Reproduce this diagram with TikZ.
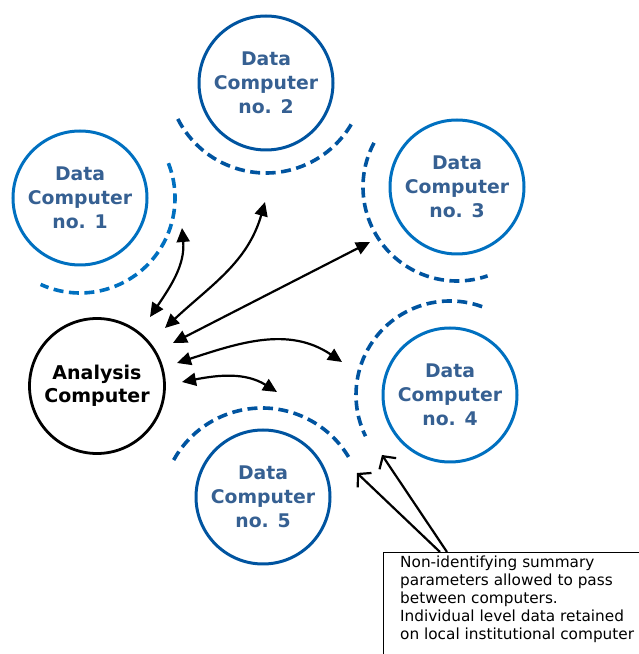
\documentclass[tikz,border=0pt]{standalone}
\usepackage{fontspec}
\setmainfont{DejaVu Sans}
\usetikzlibrary{arrows.meta,calc}
\definecolor{lightblue}{RGB}{0,112,192}
\definecolor{deepblue}{RGB}{0,84,160}
\definecolor{labelblue}{RGB}{54,96,146}
\begin{document}
\begin{tikzpicture}[x=1pt,y=1pt,
  dcnode/.style={circle, draw, minimum size=134pt, inner sep=0pt, line width=3pt,
    align=center, text=labelblue, font=\fontsize{18.8}{24}\selectfont\bfseries},
  hostnode/.style={circle, draw=black, minimum size=135pt, inner sep=0pt, line width=2.8pt,
    align=center, font=\fontsize{19}{23.5}\selectfont\bfseries},
  shield/.style={line width=3.6pt, dash pattern=on 10pt off 5.5pt},
  link/.style={line width=2.2pt, {Triangle[length=14pt,width=13pt]}-{Triangle[length=14pt,width=13pt]}},
  pointer/.style={line width=2.2pt, -{Straight Barb[length=9pt,width=20pt]}}
]
\useasboundingbox (0,0) rectangle (638,654);

% data computers
\node[dcnode, draw=lightblue] (dc1) at (80,456) {Data\\Computer\\no. 1};
\node[dcnode, draw=deepblue]  (dc2) at (266,571) {Data\\Computer\\no. 2};
\node[dcnode, draw=lightblue] (dc3) at (457,467) {Data\\Computer\\no. 3};
\node[dcnode, draw=lightblue] (dc4) at (450,259) {Data\\Computer\\no. 4};
\node[dcnode, draw=deepblue]  (dc5) at (263,157) {Data\\Computer\\no. 5};

% analysis computer
\node[hostnode] (ac) at (97,268) {Analysis\\Computer};

% dashed boundaries around each data computer
\draw[shield, lightblue] (dc1.center) ++(21.5:95) arc[start angle=21.5, end angle=-114.5, radius=95];
\draw[shield, deepblue] ($(dc2.center)+(0,9)$) ++(207:99) arc[start angle=207, end angle=332, radius=99];
\draw[shield, deepblue] (dc3.center) ++(152:94) arc[start angle=152, end angle=289, radius=94];
\draw[shield, deepblue] (dc4.center) ++(70:94) arc[start angle=70, end angle=206, radius=94];
\draw[shield, deepblue] ($(dc5.center)+(-1,-12)$) ++(151:101) arc[start angle=151, end angle=28, radius=101];

% arrow ends
\coordinate (p1) at (150,337); \coordinate (q1) at (182,426);
\coordinate (p2) at (165,326); \coordinate (q2) at (265,452);
\coordinate (p3) at (173,311); \coordinate (q3) at (370,412);
\coordinate (p4) at (177,291); \coordinate (q4) at (342,292);
\coordinate (p5) at (182,272); \coordinate (q5) at (277,262);

% parameter exchange
\draw[link] (p1) to[out=56, in=-85] (q1);
\draw[link] (p2) to[out=43, in=-106] (q2);
\draw[link] (p3) -- (q3);
\draw[link] (p4) to[out=18, in=146] (q4);
\draw[link] (p5) to[out=11, in=148] (q5);

% explanatory note
\node[draw, line width=1.4pt, minimum width=290pt, minimum height=130pt, anchor=north west, inner sep=0pt]
  (note) at (383,102) {};
\node[anchor=north west, inner sep=0pt, align=left, font=\fontsize{15.3}{18}\selectfont]
  (notetext) at ($(note.north west)+(17,-3.6)$)
  {Non-identifying summary\\parameters allowed to pass\\between computers.\\Individual level data retained\\on local institutional computer};

\coordinate (t1) at (357,181);
\coordinate (t2) at (382,199);
\draw[pointer] ($(note.north west)+(57,0)$) -- (t1);
\draw[pointer] ($(note.north west)+(64,0)$) -- (t2);
\end{tikzpicture}
\end{document}
